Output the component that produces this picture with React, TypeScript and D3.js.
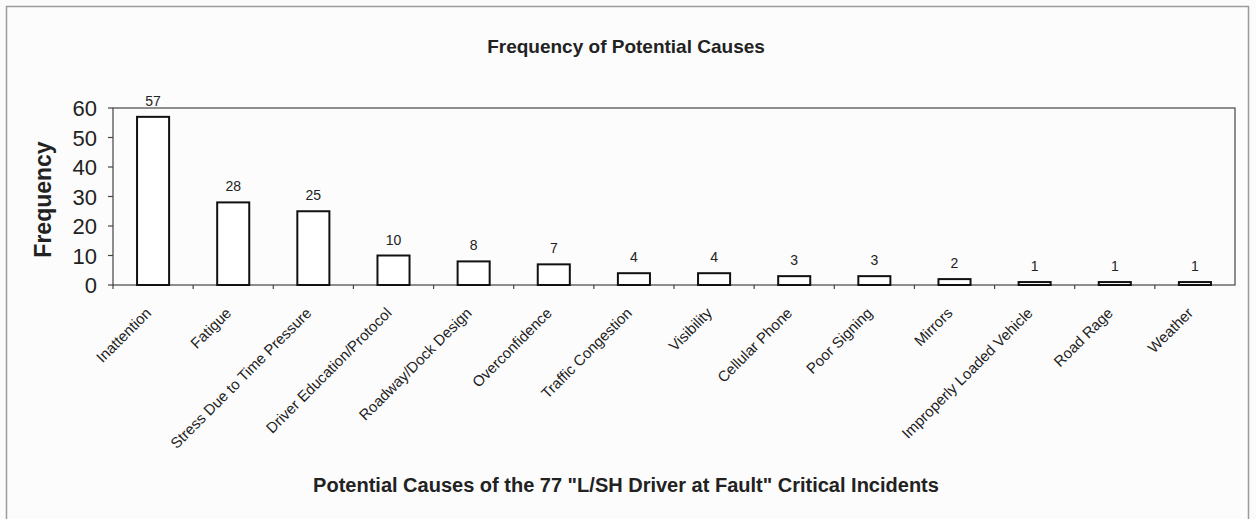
import React from "react";
import * as d3 from "d3";

const categories = [
  "Inattention",
  "Fatigue",
  "Stress Due to Time Pressure",
  "Driver Education/Protocol",
  "Roadway/Dock Design",
  "Overconfidence",
  "Traffic Congestion",
  "Visibility",
  "Cellular Phone",
  "Poor Signing",
  "Mirrors",
  "Improperly Loaded Vehicle",
  "Road Rage",
  "Weather",
];
const values = [57, 28, 25, 10, 8, 7, 4, 4, 3, 3, 2, 1, 1, 1];
const yTicks = [0, 10, 20, 30, 40, 50, 60];

const W = 1256;
const H = 519;
const left = 113;
const right = 1235;
const top = 108;
const bottom = 285;
const font = "'Liberation Sans', Arial, sans-serif";

export default function App() {
  const x = d3.scaleBand<string>().domain(categories).range([left, right]).paddingInner(0.6).paddingOuter(0.3);
  const band = d3.scaleBand<string>().domain(categories).range([left, right]);
  const y = d3.scaleLinear().domain([0, 60]).range([bottom, top]);

  return (
    <svg width={W} height={H} style={{ position: "absolute", left: 0, top: 0, background: "#fbfbfb" }}>
      <rect x={6.5} y={6.5} width={1242} height={530} fill="#fcfcfc" stroke="#9a9a9a" strokeWidth={1.5} />
      <text x={626} y={53} textAnchor="middle" fontFamily={font} fontWeight="bold" fontSize={19} fill="#222">
        Frequency of Potential Causes
      </text>
      <rect x={left} y={top} width={right - left} height={bottom - top} fill="none" stroke="#444" strokeWidth={1.2} />
      {yTicks.map((t) => (
        <g key={t}>
          <line x1={left - 5} x2={left} y1={y(t)} y2={y(t)} stroke="#444" strokeWidth={1.2} />
          <text x={97} y={y(t) + 8} textAnchor="end" fontFamily={font} fontSize={22} fill="#222">
            {t}
          </text>
        </g>
      ))}
      <text
        transform={`translate(51,${(top + bottom) / 2 + 3}) rotate(-90)`}
        textAnchor="middle"
        fontFamily={font}
        fontWeight="bold"
        fontSize={23}
        fill="#222"
      >
        Frequency
      </text>
      {categories.map((c, i) => (
        <line key={"t" + i} x1={band(c)!} x2={band(c)!} y1={bottom} y2={bottom + 4} stroke="#444" strokeWidth={1.2} />
      ))}
      {categories.map((c, i) => (
        <g key={c}>
          <rect
            x={x(c)!}
            y={y(values[i])}
            width={x.bandwidth()}
            height={bottom - y(values[i])}
            fill="#fff"
            stroke="#111"
            strokeWidth={2}
          />
          <text
            x={x(c)! + x.bandwidth() / 2}
            y={y(values[i]) - 11}
            textAnchor="middle"
            fontFamily={font}
            fontSize={14}
            fill="#222"
          >
            {values[i]}
          </text>
          <text
            transform={`translate(${x(c)! + x.bandwidth() / 2 - 1},${bottom + 29}) rotate(-45)`}
            textAnchor="end"
            fontFamily={font}
            fontSize={15}
            fill="#222"
          >
            {c}
          </text>
        </g>
      ))}
      <text x={626} y={492} textAnchor="middle" fontFamily={font} fontWeight="bold" fontSize={20} fill="#222">
        Potential Causes of the 77 "L/SH Driver at Fault" Critical Incidents
      </text>
    </svg>
  );
}
